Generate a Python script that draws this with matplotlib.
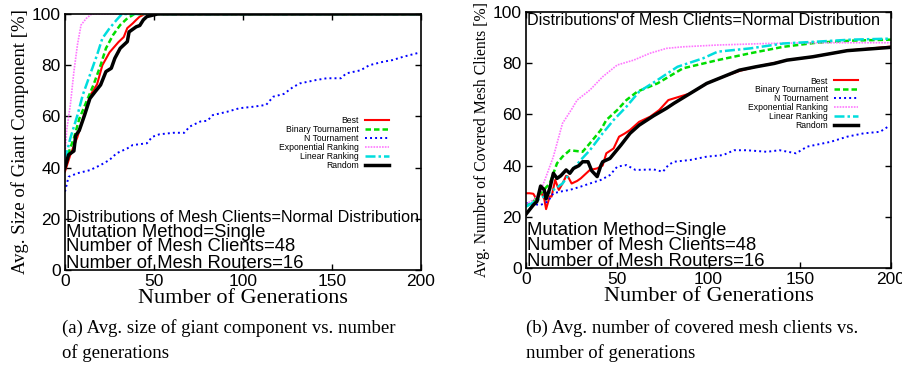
import matplotlib
matplotlib.use("Agg")
import matplotlib.pyplot as plt

# fonts: gnuplot-like sans for ticks/text, times-like serif for labels
SANS = ["Liberation Sans", "DejaVu Sans"]
SERIF = ["Liberation Serif", "DejaVu Serif"]

names = ["Best", "Binary Tournament", "N Tournament",
         "Exponential Ranking", "Linear Ranking", "Random"]

# (a) avg. size of giant component [%]
gen_a_best = [0, 3, 7, 10, 14, 18, 21, 25, 30, 33, 35, 38, 40, 42, 45, 200]
val_a_best = [38.5, 45, 52, 59, 68, 72.5, 80, 85, 89, 91, 94.5, 96.3, 97.7, 99, 100, 100]
gen_a_bin = [0, 5, 8, 12, 16, 20, 23, 27, 31, 35, 39, 200]
val_a_bin = [42, 51.5, 59, 65.7, 72.3, 80, 86.6, 91.8, 95.7, 98.3, 100, 100]
gen_a_ntour = [0, 2, 7, 14, 20, 25, 29, 35, 38, 46, 49, 53, 61, 67, 70, 76, 80, 83,
               91, 98, 106, 113, 117, 123, 128, 132, 141, 147, 155, 158, 166, 171,
               179, 184, 190, 199]
val_a_ntour = [30.6, 36.4, 37.8, 39, 41, 43, 45.6, 47.5, 48.8, 49.5, 52, 53, 53.6,
               53.6, 56, 58, 58.3, 60.5, 61.8, 63.2, 63.8, 64.5, 67.7, 68.8, 71.4,
               72.9, 74.2, 74.9, 74.9, 76.8, 78, 80, 81.4, 82, 83.3, 84.9]
gen_a_exp = [0, 1, 3, 5, 7, 9, 12, 15, 200]
val_a_exp = [45, 55, 64.5, 77.5, 88, 95.7, 98.3, 100, 100]
gen_a_lin = [0, 3, 7, 10, 14, 18, 21, 25, 29, 32, 200]
val_a_lin = [43, 51.5, 60.5, 68.4, 76.2, 84, 90.5, 94.4, 97.7, 100, 100]
gen_a_rand = [0, 2, 5, 6, 8, 11, 14, 17, 20, 23, 26, 28, 31, 35, 36, 40, 42, 44,
              46, 52, 200]
val_a_rand = [40, 45, 46.5, 52.5, 54.5, 60.5, 67, 69.7, 72.3, 77.5, 78.8, 82.7,
              86.6, 89.2, 93, 95, 95.5, 97.7, 99, 100, 100]

# (b) avg. number of covered mesh clients [%]
gen_b_best = [0, 2, 4, 6, 8, 10, 11, 13, 14, 16, 18, 20, 22, 23, 25, 28, 30, 35,
              39, 42, 44, 48, 51, 54, 57, 62, 68, 73, 78, 90, 99, 108, 117, 126,
              135, 143, 157, 176, 200]
val_b_best = [29.2, 29.2, 29, 26.6, 30, 27, 23, 28, 27.9, 34.4, 30.5, 33, 36, 35.7,
              33, 34, 35, 38.3, 38.9, 40, 44.8, 46.7, 51.3, 52.5, 53.9, 57.1, 59.1,
              61.7, 65.6, 68.2, 72.1, 74.7, 77, 78.6, 79.9, 81.2, 82.5, 84.9, 86.5]
gen_b_bin = [0, 4, 8, 13, 17, 20, 24, 31, 35, 41, 44, 50, 55, 61, 72, 86, 105, 123,
             141, 159, 178, 200]
val_b_bin = [24, 26, 29.2, 33, 40.9, 43.5, 46, 45.4, 48.7, 53.9, 57.8, 61.7, 65.6,
             68.9, 72.1, 78, 81.2, 83.9, 86.4, 88, 88.8, 89.2]
gen_b_ntour = [0, 4, 8, 12, 15, 20, 24, 30, 35, 41, 46, 50, 55, 60, 70, 75, 78, 81,
               90, 99, 108, 114, 121, 132, 139, 148, 154, 167, 176, 185, 194, 199]
val_b_ntour = [25.3, 25, 24.6, 26, 29.2, 30, 30.5, 31.8, 33, 34.4, 36.3, 39.6, 40.2,
               38.3, 38.5, 37.6, 40.2, 41.5, 42.2, 43.5, 44.1, 46, 46, 45.4, 46,
               44.8, 47.4, 49.3, 51.3, 52.6, 53.2, 55.5]
gen_b_exp = [0, 5, 8, 11, 15, 20, 25, 28, 35, 42, 50, 59, 68, 77, 86, 105, 132,
             159, 200]
val_b_exp = [25, 27, 30, 35.7, 43.5, 56.5, 62, 65.6, 69.5, 74.7, 79.3, 81.2, 83.9,
             85.8, 86.4, 87.1, 87.7, 88, 88]
gen_b_lin = [0, 5, 10, 15, 20, 24, 30, 35, 42, 48, 55, 62, 72, 83, 97, 105, 123,
             141, 159, 178, 200]
val_b_lin = [24, 26, 28, 30.5, 33, 37, 42.2, 46, 52.6, 57.8, 63, 68.9, 73.4, 78.6,
             81.9, 84.5, 85.8, 87.7, 88.4, 89.2, 89.6]
gen_b_rand = [0, 4, 6, 8, 10, 11, 13, 15, 17, 19, 22, 24, 26, 29, 31, 34, 36, 39,
              41, 42, 46, 52, 57, 62, 70, 77, 81, 90, 99, 108, 117, 126, 136, 143,
              157, 176, 200]
val_b_rand = [21, 24.6, 26, 32, 30.5, 27, 31, 37, 35, 36, 38.3, 37, 38.9, 40, 41.5,
              41.5, 38, 35.7, 40, 41.5, 42.8, 48, 52.6, 55.8, 59.5, 62.4, 64.3, 68.2,
              72.1, 74.7, 77.3, 78.6, 79.9, 81.2, 82.5, 84.9, 86.2]

styles = [
    dict(color="#ff0000", lw=1.5, ls="-"),
    dict(color="#00dd00", lw=1.8, dashes=(2.2, 1.2)),
    dict(color="#0000ff", lw=1.4, dashes=(1, 1.6)),
    dict(color="#ff77ff", lw=1.2, dashes=(1, 0.7)),
    dict(color="#00dddd", lw=1.8, dashes=(4, 1.2, 1, 1.2)),
    dict(color="#000000", lw=2.5, ls="-"),
]

series_a = [(gen_a_best, val_a_best), (gen_a_bin, val_a_bin),
            (gen_a_ntour, val_a_ntour), (gen_a_exp, val_a_exp),
            (gen_a_lin, val_a_lin), (gen_a_rand, val_a_rand)]
series_b = [(gen_b_best, val_b_best), (gen_b_bin, val_b_bin),
            (gen_b_ntour, val_b_ntour), (gen_b_exp, val_b_exp),
            (gen_b_lin, val_b_lin), (gen_b_rand, val_b_rand)]

fig = plt.figure(figsize=(9.02, 3.69), dpi=100)
ax_a = fig.add_axes([65 / 902, 1 - 270 / 369, 356 / 902, 256 / 369])
ax_b = fig.add_axes([526 / 902, 1 - 268 / 369, 365 / 902, 256 / 369])


def setup(ax, series, ylabel, ylsize, leg_anchor, lines, ypos):
    for (x, y), name, st in zip(series, names, styles):
        ax.plot(x, y, label=name, **st)
    ax.set_xlim(0, 200)
    ax.set_ylim(0, 100)
    ax.set_xticks([0, 50, 100, 150, 200])
    ax.set_yticks([0, 20, 40, 60, 80, 100])
    ax.tick_params(direction="in", length=4, width=1, top=True, right=True,
                   labelsize=12.5, pad=3)
    for lab in ax.get_xticklabels() + ax.get_yticklabels():
        lab.set_family(SANS)
    for sp in ax.spines.values():
        sp.set_linewidth(1.2)
    ax.set_ylabel(ylabel, family=SERIF, fontsize=ylsize, labelpad=2)
    ax.set_xlabel("Number of Generations", family=SERIF, fontsize=16, labelpad=0)
    ax.legend(loc="upper right", bbox_to_anchor=leg_anchor, frameon=False,
              markerfirst=False, prop={"family": SANS, "size": 6.2},
              labelspacing=-0.02, handlelength=2.8, handletextpad=0.7,
              borderpad=0, borderaxespad=0)
    for txt, yy, fs in zip(lines, ypos, [11.6, 13.3, 13.3, 13.3]):
        ax.text(0.003, yy, txt, transform=ax.transAxes, family=SANS,
                fontsize=fs, va="center", ha="left")


info = ["Distributions of Mesh Clients=Normal Distribution",
        "Mutation Method=Single",
        "Number of Mesh Clients=48",
        "Number of Mesh Routers=16"]

setup(ax_a, series_a, "Avg. Size of Giant Component [%]", 13.5,
      (0.910, 0.600), info, [0.207, 0.148, 0.090, 0.027])
setup(ax_b, series_b, "Avg. Number of Covered Mesh Clients [%]", 11.3,
      (0.910, 0.748), info, [0.965, 0.148, 0.086, 0.027])

fig.text(62 / 902, 1 - 328 / 369, "(a) Avg. size of giant component vs. number",
         family=SERIF, fontsize=13.5, va="center")
fig.text(62 / 902, 1 - 353 / 369, "of generations",
         family=SERIF, fontsize=13.5, va="center")
fig.text(526 / 902, 1 - 328 / 369, "(b) Avg. number of covered mesh clients vs.",
         family=SERIF, fontsize=13.5, va="center")
fig.text(526 / 902, 1 - 353 / 369, "number of generations",
         family=SERIF, fontsize=13.5, va="center")

fig.savefig("out.png", dpi=100)
